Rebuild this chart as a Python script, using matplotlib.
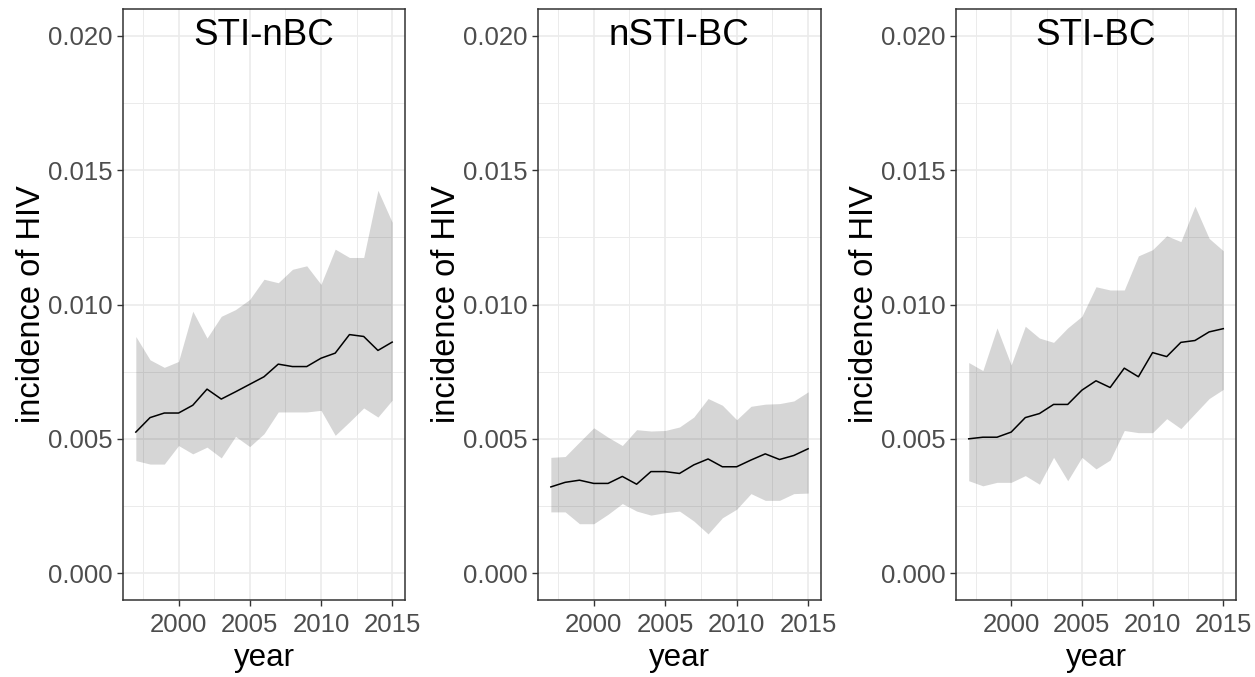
import matplotlib.pyplot as plt
import numpy as np

# data (incidence x 1000)
years = np.arange(1997, 2016)

titles = ['STI-nBC', 'nSTI-BC', 'STI-BC']

mean_sti_nbc = [5.25, 5.79, 5.96, 5.96, 6.25, 6.85, 6.48, 6.75, 7.03, 7.31,
                7.78, 7.69, 7.69, 8.00, 8.19, 8.88, 8.81, 8.29, 8.60]
upper_sti_nbc = [8.81, 7.94, 7.66, 7.88, 9.75, 8.75, 9.56, 9.81, 10.19, 10.94,
                 10.81, 11.31, 11.44, 10.75, 12.06, 11.75, 11.75, 14.25, 13.06]
lower_sti_nbc = [4.19, 4.06, 4.06, 4.75, 4.44, 4.69, 4.29, 5.09, 4.71, 5.19,
                 6.00, 6.00, 6.00, 6.06, 5.13, 5.63, 6.15, 5.81, 6.44]

mean_nsti_bc = [3.21, 3.38, 3.46, 3.34, 3.34, 3.60, 3.31, 3.78, 3.78, 3.71,
                4.03, 4.25, 3.96, 3.96, 4.21, 4.44, 4.23, 4.38, 4.63]
upper_nsti_bc = [4.31, 4.34, 4.88, 5.41, 5.06, 4.75, 5.34, 5.29, 5.31, 5.44,
                 5.81, 6.50, 6.25, 5.71, 6.21, 6.29, 6.31, 6.41, 6.75]
lower_nsti_bc = [2.28, 2.28, 1.84, 1.84, 2.19, 2.59, 2.31, 2.16, 2.25, 2.31,
                 1.94, 1.46, 2.06, 2.38, 2.96, 2.71, 2.71, 2.96, 2.98]

mean_sti_bc = [5.00, 5.06, 5.06, 5.25, 5.79, 5.94, 6.28, 6.28, 6.81, 7.16,
               6.91, 7.63, 7.31, 8.21, 8.06, 8.59, 8.66, 8.98, 9.10]
upper_sti_bc = [7.84, 7.54, 9.13, 7.75, 9.19, 8.75, 8.59, 9.13, 9.56, 10.66,
                10.54, 10.54, 11.81, 12.04, 12.56, 12.34, 13.66, 12.46, 12.00]
lower_sti_bc = [3.44, 3.25, 3.38, 3.38, 3.63, 3.31, 4.31, 3.44, 4.31, 3.88,
                4.21, 5.31, 5.23, 5.23, 5.75, 5.38, 5.94, 6.50, 6.84]

means = [mean_sti_nbc, mean_nsti_bc, mean_sti_bc]
uppers = [upper_sti_nbc, upper_nsti_bc, upper_sti_bc]
lowers = [lower_sti_nbc, lower_nsti_bc, lower_sti_bc]

plt.rcParams['font.family'] = ['Liberation Sans', 'DejaVu Sans']

W, H = 1255, 677
fig = plt.figure(figsize=(W / 100, H / 100), dpi=100)

# panel pixel boxes: left, right
boxes = [(123, 405), (538, 821), (956, 1236)]
top, bottom = 9, 600

for i in range(3):
    l, r = boxes[i]
    ax = fig.add_axes([l / W, (H - bottom) / H, (r - l) / W, (bottom - top) / H])
    m = np.array(means[i]) / 1000
    up = np.array(uppers[i]) / 1000
    lo = np.array(lowers[i]) / 1000

    ax.fill_between(years, lo, up, color='#333333', alpha=0.2, linewidth=0, zorder=2)
    ax.plot(years, m, color='black', linewidth=1.1, zorder=3)

    ax.set_xlim(1996.1, 2015.9)
    ax.set_ylim(-0.001, 0.021)
    ax.set_xticks([2000, 2005, 2010, 2015])
    ax.set_xticks([1997.5, 2002.5, 2007.5, 2012.5], minor=True)
    ax.set_yticks([0, 0.005, 0.01, 0.015, 0.02])
    ax.set_yticks([0.0025, 0.0075, 0.0125, 0.0175], minor=True)
    ax.set_yticklabels(['0.000', '0.005', '0.010', '0.015', '0.020'])

    ax.grid(True, which='major', color='#EBEBEB', linewidth=1.2, zorder=0)
    ax.grid(True, which='minor', color='#EBEBEB', linewidth=0.7, zorder=0)
    ax.set_axisbelow(True)

    ax.tick_params(which='major', length=4.5, width=1, color='#333333',
                   labelsize=18.5, labelcolor='#4D4D4D', pad=3)
    ax.tick_params(axis='x', which='major', pad=5)
    ax.tick_params(which='minor', length=0)
    for s in ax.spines.values():
        s.set_color('#333333')
        s.set_linewidth(1.1)

    ax.set_xlabel('year', fontsize=22.5, labelpad=4.5)
    ax.set_ylabel('incidence of HIV', fontsize=23.5, labelpad=0.5)

    ax.text(2006, 0.02, titles[i], fontsize=26.5, ha='center', va='center', zorder=4)

fig.savefig('out.png', dpi=100)
